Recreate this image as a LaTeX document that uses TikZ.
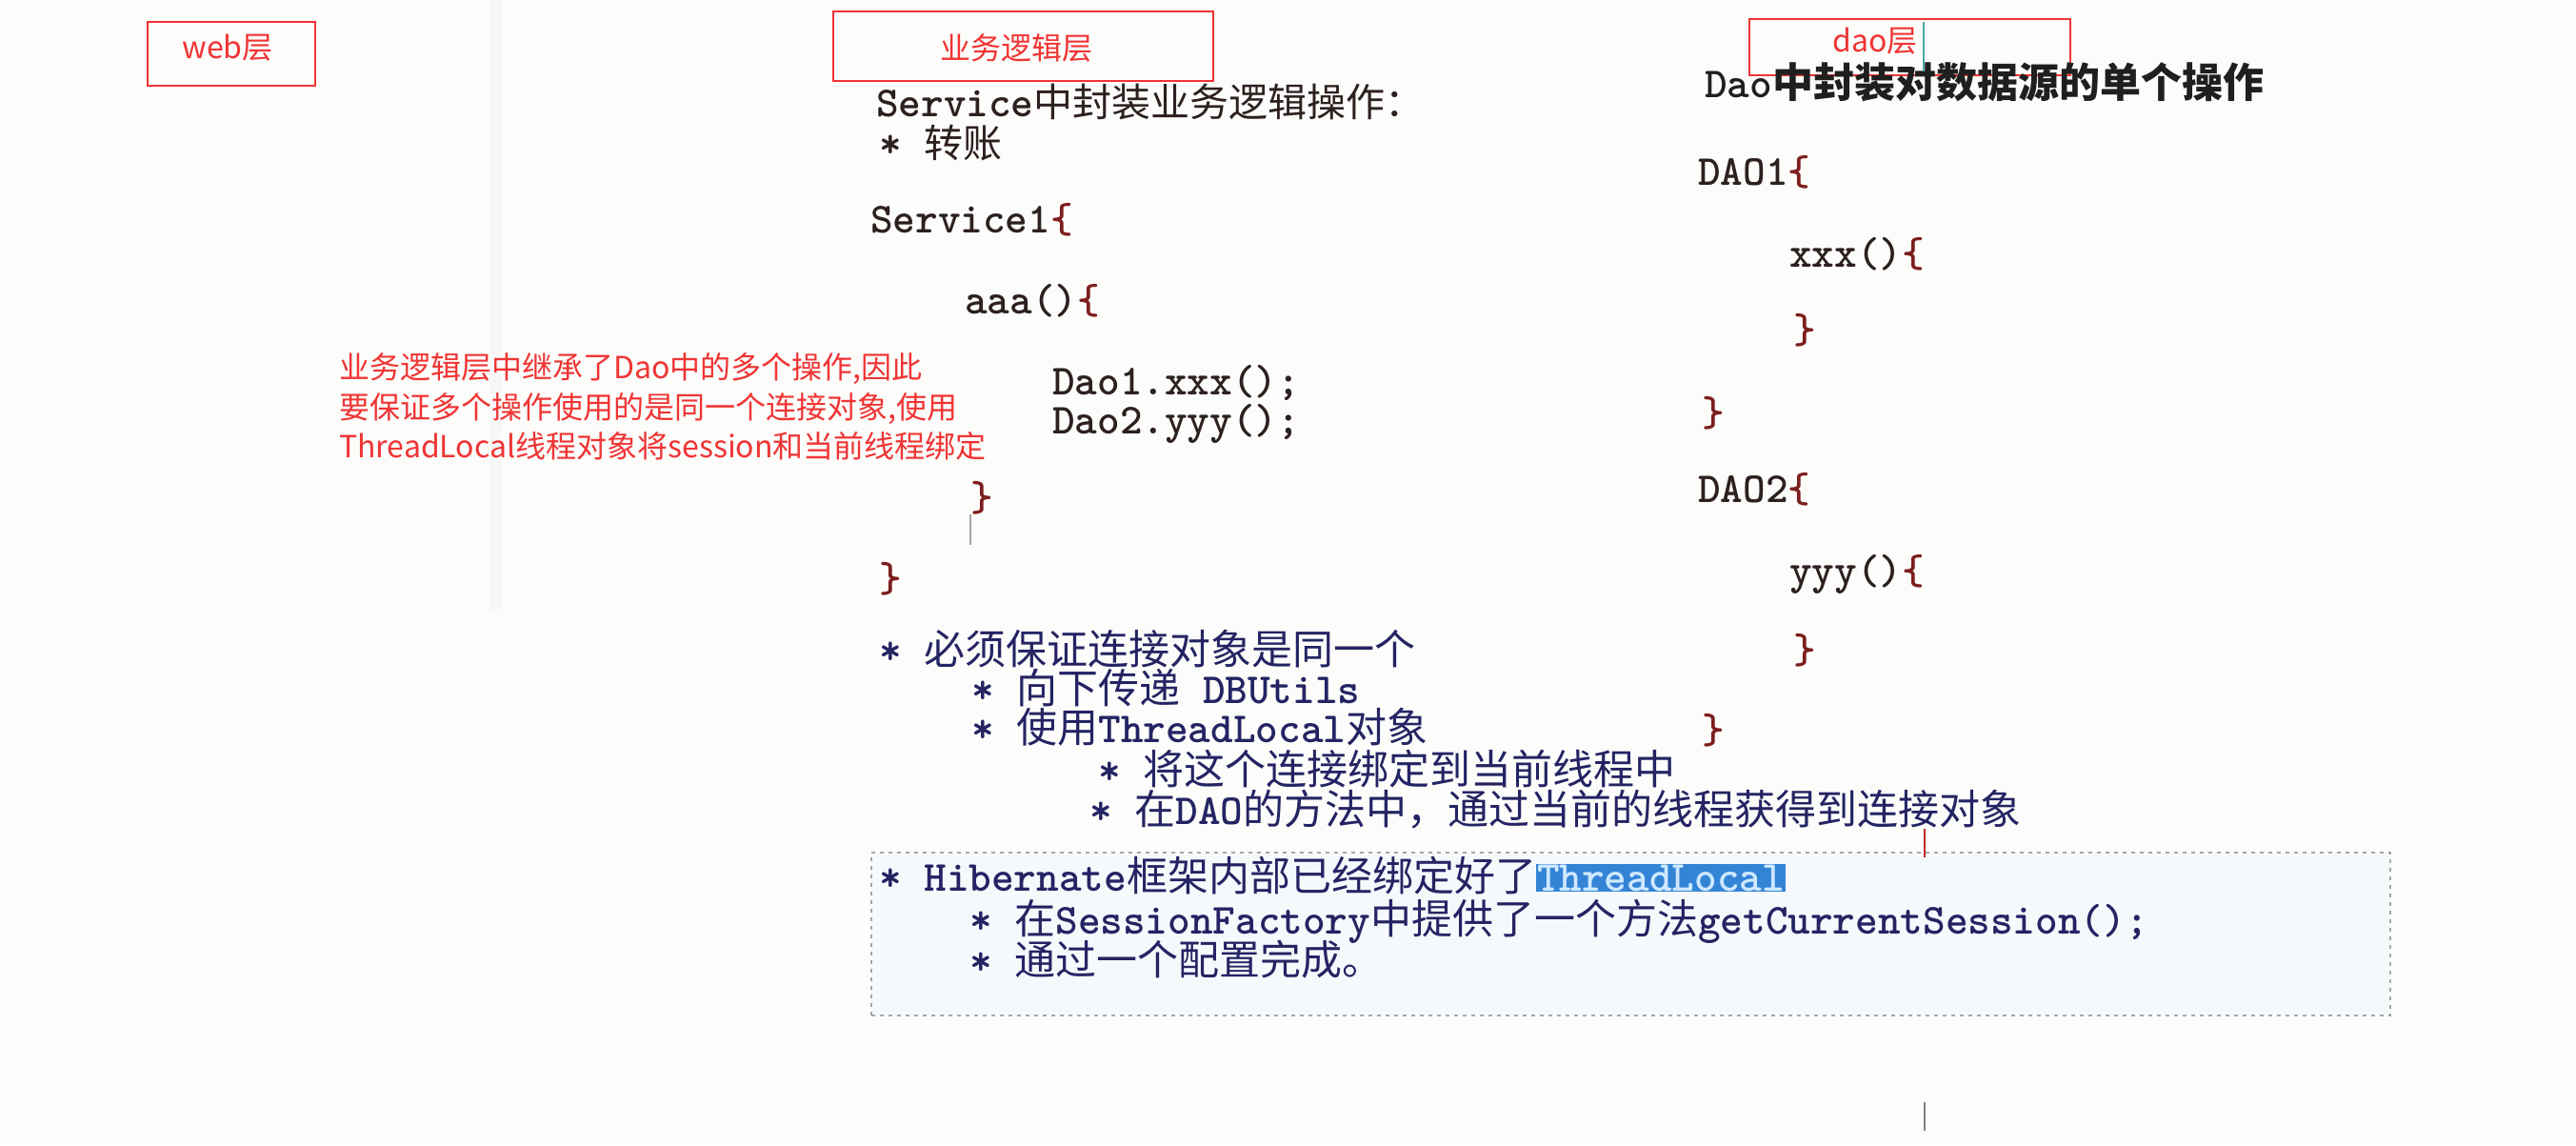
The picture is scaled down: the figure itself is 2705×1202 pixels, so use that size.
\documentclass[tikz,border=0pt]{standalone}
\usepackage{fontspec}
\newfontfamily\cjk{Noto Sans CJK SC}

\definecolor{redmark}{RGB}{240,52,52}
\definecolor{codeink}{RGB}{45,32,32}
\definecolor{bracered}{RGB}{125,30,30}
\definecolor{navy}{RGB}{36,36,100}
\definecolor{hlblue}{RGB}{52,132,214}
\definecolor{hltext}{RGB}{205,232,255}
\definecolor{paper}{RGB}{252,252,250}
\definecolor{boxtint}{RGB}{246,249,252}

\newcommand\zh[1]{{\cjk\mdseries\fontsize{41}{46}\selectfont #1}}
\newcommand\zhb[1]{{\cjk\mdseries\fontsize{43}{48}\selectfont #1}}
\newcommand\br[1]{\textcolor{bracered}{#1}}
\newcommand\hl[1]{{\setlength\fboxsep{1pt}\colorbox{hlblue}{\textcolor{hltext}{#1}}}}

\begin{document}
\begin{tikzpicture}[x=1pt,y=-1pt]
\tikzstyle{layer}=[draw=redmark,line width=1.6pt,inner sep=0pt]
\tikzstyle{layertxt}=[text=redmark,font=\cjk\fontsize{32}{38}\selectfont,inner sep=0pt]
\tikzstyle{code}=[anchor=west,inner sep=0pt,text height=34pt,text depth=2pt,text=codeink,font=\fontfamily{lmtt}\fontseries{b}\fontsize{45}{52}\selectfont]
\tikzstyle{blu}=[code,text=navy]
\fill[paper] (0,0) rectangle (2705,1202);
\useasboundingbox (0,0) rectangle (2705,1202);
\fill[black!3] (514,0) rectangle (526,640);

% layer labels
\node[layer,minimum width=176pt,minimum height=67pt] (webbox) at (243,56.5) {};
\node[layertxt] (web) at (239,50) {web层};
\node[layer,minimum width=399pt,minimum height=73pt] (bizbox) at (1074.5,48.5) {};
\node[layertxt] (biz) at (1067,50) {业务逻辑层};
\node[layer,minimum width=337pt,minimum height=59pt] (daobox) at (2005.5,49.5) {};
\node[layertxt] (dao) at (1969,43) {dao层};

% note
\node[anchor=west,align=left,inner sep=0pt,text=redmark,font=\cjk\fontsize{32}{41.5}\selectfont] (note) at (356,427)
  {业务逻辑层中继承了Dao中的多个操作,因此\\要保证多个操作使用的是同一个连接对象,使用\\ThreadLocal线程对象将session和当前线程绑定};

% service side
\node[code] (s1) at (920,106) {Service\zh{中封装业务逻辑操作：}};
\node[code] (s2) at (923,149) {*\ \zh{转账}};
\node[code] (s3) at (914,228) {Service1\br{\{}};
\node[code] (s4) at (1013,313) {aaa()\br{\{}};
\node[code] (s5) at (1105,398) {Dao1.xxx();};
\node[code] (s6) at (1105,439) {Dao2.yyy();};
\node[code] (s7) at (1019,520) {\br{\}}};
\node[code] (s8) at (923,605) {\br{\}}};

% dao side
\node[code,text=black!88] (d0) at (1790,86) {Dao{\cjk\bfseries\fontsize{43}{48}\selectfont 中封装对数据源的单个操作}};
\node[code] (d1) at (1783,178) {DAO1\br{\{}};
\node[code] (d2) at (1879,264) {xxx()\br{\{}};
\node[code] (d3) at (1883,344) {\br{\}}};
\node[code] (d4) at (1787,431) {\br{\}}};
\node[code] (d5) at (1783,511) {DAO2\br{\{}};
\node[code] (d6) at (1879,597) {yyy()\br{\{}};
\node[code] (d7) at (1883,680) {\br{\}}};
\node[code] (d8) at (1787,764) {\br{\}}};

% same connection
\node[blu] (b1) at (923,681) {*\ \zhb{必须保证连接对象是同一个}};
\node[blu] (b2) at (1020,722) {*\ \zhb{向下传递}\ DBUtils};
\node[blu] (b3) at (1020,763) {*\ \zhb{使用}ThreadLocal\zhb{对象}};
\node[blu] (b4) at (1153,807) {*\ \zhb{将这个连接绑定到当前线程中}};
\node[blu] (b5) at (1144,849) {*\ \zhb{在}DAO\zhb{的方法中，通过当前的线程获得到连接对象}};

% hibernate
\node[draw=gray!70,fill=boxtint,dash pattern=on 4pt off 5pt,line width=1.6pt,minimum width=1595pt,minimum height=171pt,inner sep=0pt] (hbox) at (1712.5,980.5) {};
\node[blu] (h1) at (923,919) {*\ Hibernate\zhb{框架内部已经绑定好了}\hl{ThreadLocal}};
\node[blu] (h2) at (1018,964) {*\ \zhb{在}SessionFactory\zhb{中提供了一个方法}getCurrentSession();};
\node[blu] (h3) at (1018,1007) {*\ \zhb{通过一个配置完成。}};

% cursor marks
\draw[teal!70,line width=2pt] (2020,23) -- (2020,75);
\draw[gray!70,line width=1.5pt] (1019,540) -- (1019,572);
\draw[redmark!80!black,line width=1.5pt] (2021,870) -- (2021,900);
\draw[gray,line width=1.5pt] (2021,1157) -- (2021,1187);
\end{tikzpicture}
\end{document}
